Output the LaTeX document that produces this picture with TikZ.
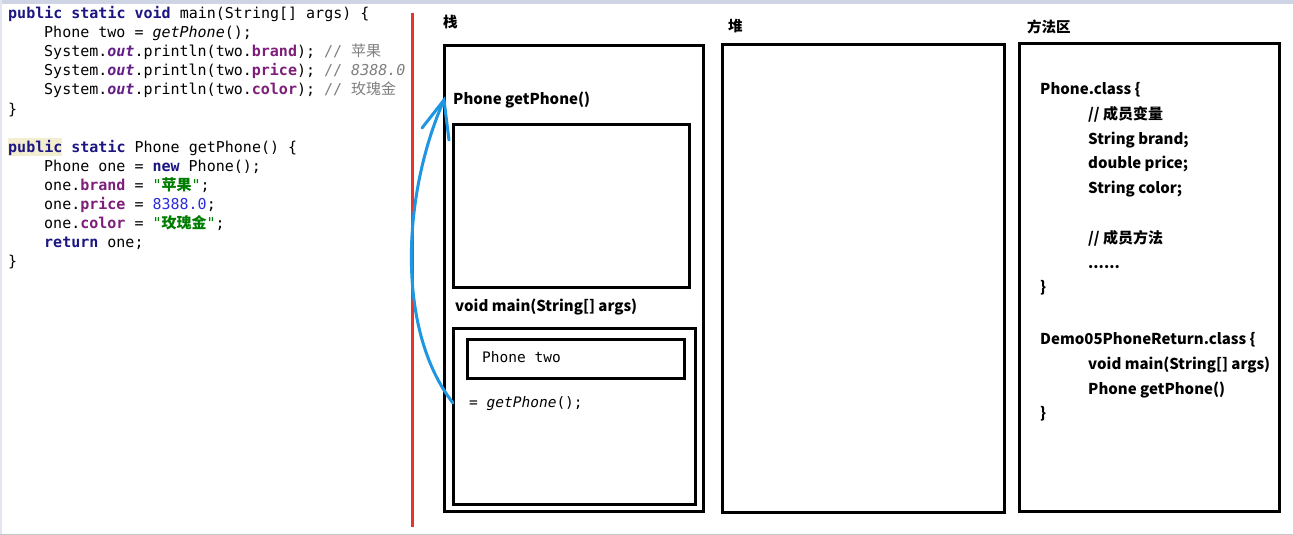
\documentclass[tikz,border=0pt]{standalone}
\usepackage{fontspec}
\setmainfont{Noto Sans CJK SC}
\newfontfamily\cjk{Noto Sans CJK SC}
\newfontfamily\codefont{DejaVu Sans Mono}
\definecolor{kwc}{RGB}{28,22,130}
\definecolor{fldc}{RGB}{125,30,120}
\definecolor{outc}{RGB}{100,30,135}
\definecolor{cmtc}{RGB}{128,128,128}
\definecolor{numc}{RGB}{45,45,220}
\definecolor{strc}{RGB}{0,125,0}
\definecolor{redline}{RGB}{232,52,44}
\definecolor{bluearrow}{RGB}{30,150,225}
\definecolor{topstrip}{RGB}{206,212,228}
\definecolor{hilite}{RGB}{243,238,208}
\newcommand{\kw}[1]{\textcolor{kwc}{\bfseries #1}}
\newcommand{\fld}[1]{\textcolor{fldc}{\bfseries #1}}
\newcommand{\outf}[1]{\textcolor{outc}{\bfseries\itshape #1}}
\newcommand{\cmt}[1]{\textcolor{cmtc}{#1}}
\newcommand{\nm}[1]{\textcolor{numc}{#1}}
\newcommand{\strg}[1]{\textcolor{strc}{#1}}
\newcommand{\zh}[1]{{\cjk #1}}
\begin{document}
\begin{tikzpicture}[x=1pt,y=-1pt,
  codeline/.style={anchor=base west,inner sep=0pt,font=\codefont\fontsize{15}{19}\selectfont},
  paneltext/.style={anchor=base west,inner sep=0pt,font=\bfseries\fontsize{15}{19}\selectfont},
  areatitle/.style={anchor=base west,inner sep=0pt,font=\bfseries\fontsize{14.5}{18}\selectfont},
  memtext/.style={anchor=base west,inner sep=0pt,font=\codefont\fontsize{14.5}{18}\selectfont},
  framebox/.style={draw=black,line width=3.2pt,inner sep=0pt,anchor=north west},
  arrowline/.style={draw=bluearrow,line width=3pt,line cap=round}]
\useasboundingbox (0,0) rectangle (1293,535);
\fill[white] (0,0) rectangle (1293,535);
\fill[topstrip] (0,0) rectangle (1293,4);
\fill[topstrip!60] (0,0) rectangle (2,535);
\fill[black!22] (0,533.5) rectangle (1293,535);
% code
\fill[hilite] (8,138) rectangle (62,156);
\node[codeline] (c1) at (8,19) {\kw{public static void} main(String[] args) \{};
\node[codeline] (c2) at (44,38) {Phone two = \textit{getPhone}();};
\node[codeline] (c3) at (44,57) {System.\outf{out}.println(two.\fld{brand}); \cmt{// \zh{苹果}}};
\node[codeline] (c4) at (44,76) {System.\outf{out}.println(two.\fld{price}); \cmt{// \textit{8388.0}}};
\node[codeline] (c5) at (44,95) {System.\outf{out}.println(two.\fld{color}); \cmt{// \zh{玫瑰金}}};
\node[codeline] (c6) at (8,114) {\}};
\node[codeline] (c7) at (8,152) {\kw{public static} Phone getPhone() \{};
\node[codeline] (c8) at (44,171) {Phone one = \kw{new} Phone();};
\node[codeline] (c9) at (44,190) {one.\fld{brand} = \strg{"{\cjk\bfseries 苹果}"};};
\node[codeline] (c10) at (44,209) {one.\fld{price} = \nm{8388.0};};
\node[codeline] (c11) at (44,228) {one.\fld{color} = \strg{"{\cjk\bfseries 玫瑰金}"};};
\node[codeline] (c12) at (44,247) {\kw{return} one;};
\node[codeline] (c13) at (8,266) {\}};
% divider
\draw[redline,line width=3pt] (412,13) -- (412,527);
% stack
\node[areatitle] (stacklbl) at (443,28) {栈};
\node[framebox,minimum width=259pt,minimum height=466pt] (stack) at (443,44) {};
\node[paneltext] (gplbl) at (453,104) {Phone getPhone()};
\node[framebox,minimum width=236pt,minimum height=163pt] (gpframe) at (452,123) {};
\node[paneltext] (mainlbl) at (455,311) {void main(String[] args)};
\node[framebox,minimum width=242pt,minimum height=176pt] (mainframe) at (452,327) {};
\node[framebox,minimum width=217pt,minimum height=39pt] (twobox) at (466,338) {};
\node[memtext] (twotxt) at (482,362) {Phone two};
\node[memtext] (assign) at (469,407) {= \textit{getPhone}();};
% heap
\node[areatitle] (heaplbl) at (728,32) {堆};
\node[framebox,minimum width=282pt,minimum height=468pt] (heap) at (721,43) {};
% method area
\node[areatitle] (methlbl) at (1027,33) {方法区};
\node[framebox,minimum width=260pt,minimum height=468pt] (meth) at (1018,42) {};
\node[paneltext] (m1) at (1040,94) {Phone.class \{};
\node[paneltext] (m2) at (1088,119) {// 成员变量};
\node[paneltext] (m3) at (1088,144) {String brand;};
\node[paneltext] (m4) at (1088,168) {double price;};
\node[paneltext] (m5) at (1088,193) {String color;};
\node[paneltext] (m6) at (1088,243) {// 成员方法};
\node[paneltext] (m7) at (1088,268) {......};
\node[paneltext] (m8) at (1040,292) {\}};
\node[paneltext] (m9) at (1040,344) {Demo05PhoneReturn.class \{};
\node[paneltext] (m10) at (1088,369) {void main(String[] args)};
\node[paneltext] (m11) at (1088,394) {Phone getPhone()};
\node[paneltext] (m12) at (1040,418) {\}};
% arrow
\coordinate (tip) at (444,100);
\coordinate (arrowstart) at (453,403);
\coordinate (barbL) at (422,128);
\coordinate (barbR) at (449,140);
\draw[arrowline] (arrowstart) .. controls (396,330) and (402,195) .. (tip);
\draw[arrowline] (barbL) -- (tip) -- (barbR);
\end{tikzpicture}
\end{document}
